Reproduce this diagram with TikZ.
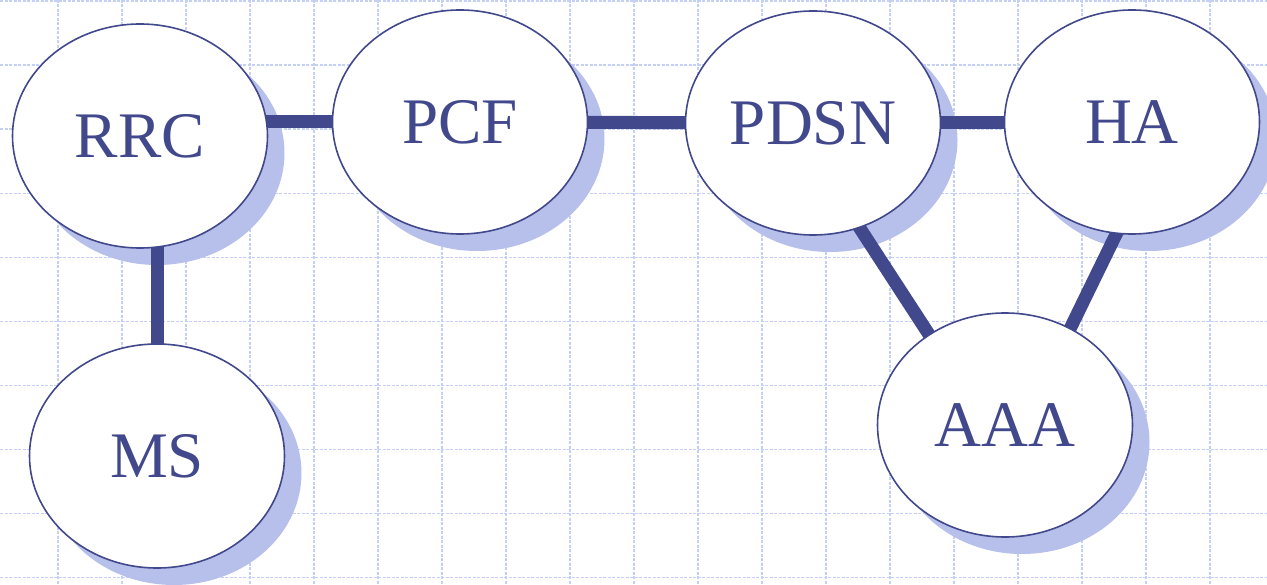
\documentclass[tikz,border=0pt]{standalone}
\usepackage{fontspec}
\setmainfont{Liberation Serif}
\usetikzlibrary{shapes.geometric,calc}
\definecolor{ink}{RGB}{66,72,140}
\definecolor{shadowc}{RGB}{182,192,235}
\definecolor{gridc}{RGB}{196,208,246}
\pgfdeclarelayer{gridl}
\pgfdeclarelayer{shadowl}
\pgfdeclarelayer{linel}
\pgfsetlayers{gridl,shadowl,linel,main}
\begin{document}
\begin{tikzpicture}[x=1pt,y=-1pt,
  entity/.style={ellipse,draw=ink,line width=1.6pt,fill=white,
    minimum width=255pt,minimum height=224pt,inner sep=0pt,text=ink,
    font=\fontsize{65}{70}\selectfont},
  link/.style={draw=ink,line width=13pt},
  gridline/.style={draw=gridc,line width=1.2pt,dash pattern=on 3pt off 1.5pt}]
\useasboundingbox (0,0) rectangle (1267,585);
\node[entity] (rrc)  at (140,136)  {RRC};
\node[entity] (pcf)  at (460,122)  {PCF};
\node[entity] (pdsn) at (813,123)  {PDSN};
\node[entity] (ha)   at (1132,122) {HA};
\node[entity] (aaa)  at (1005,425) {AAA};
\node[entity] (ms)   at (157,456)  {MS};
\begin{pgfonlayer}{gridl}
  \fill[white] (0,0) rectangle (1267,585);
  \foreach \k in {0,...,18} \draw[gridline] (58+64*\k,0) -- (58+64*\k,585);
  \foreach \k in {0,...,9} \draw[gridline] (0,1+64.05*\k) -- (1267,1+64.05*\k);
\end{pgfonlayer}
\begin{pgfonlayer}{shadowl}
  \foreach \n in {rrc,pcf,pdsn,ha,aaa,ms}
    \fill[shadowc] ([shift={(17,17)}]\n.center) ellipse [x radius=127.5pt, y radius=112pt];
\end{pgfonlayer}
\begin{pgfonlayer}{linel}
  \draw[link] (rrc.center |- pcf.center) -- (pcf.center);
  \draw[link] (pcf.center) -- (pdsn.center);
  \draw[link] (pdsn.center) -- (ha.center |- pdsn.center);
  \draw[link] (ms.center |- rrc.center) -- (ms.center);
  \draw[link] ($(pdsn.-66)!-0.3!(aaa.130)$) -- ($(aaa.130)!-0.3!(pdsn.-66)$);
  \draw[link] ($(ha.-98)!-0.3!(aaa.56)$) -- ($(aaa.56)!-0.3!(ha.-98)$);
\end{pgfonlayer}
\end{tikzpicture}
\end{document}
